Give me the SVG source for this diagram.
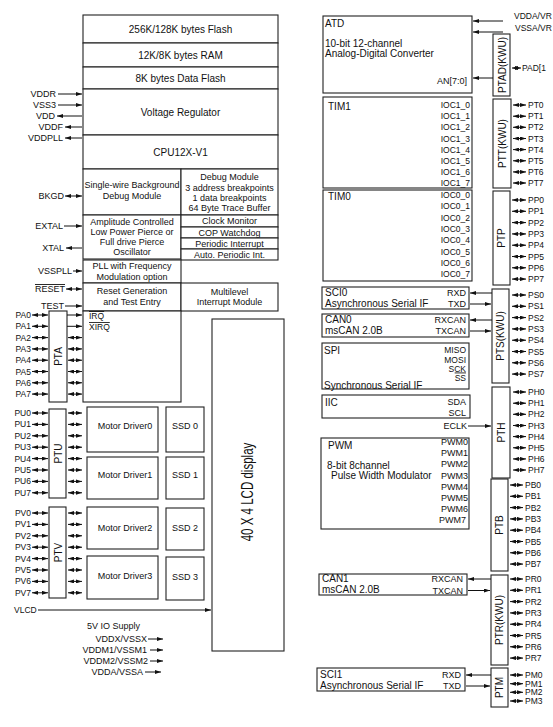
<svg xmlns="http://www.w3.org/2000/svg" width="553" height="727" viewBox="0 0 553 727">
<style>
text{font-family:"Liberation Sans",Arial,Helvetica,sans-serif;fill:#111;dominant-baseline:central}
.b{fill:#fff;stroke:#222;stroke-width:1.1}
.t10{font-size:10px}
.t9{font-size:9px}
.t85{font-size:8.5px}
.c{text-anchor:middle}
.e{text-anchor:end}
.ov{text-decoration:overline}
#connectors path{fill:none;stroke:#111;stroke-width:1}
#connectors path.s{marker-end:url(#a)}
#connectors path.d{marker-start:url(#a);marker-end:url(#a)}
</style>
<defs>
<marker id="a" viewBox="0 0 6 4" refX="6" refY="2" markerWidth="6" markerHeight="4" markerUnits="userSpaceOnUse" orient="auto-start-reverse"><path d="M0,0L6,2L0,4z" style="fill:#111;stroke:none"/></marker>
</defs>
<rect width="553" height="727" fill="#fff"/>

<!-- left core -->
<g id="flash"><rect class="b" x="83" y="15" width="195" height="28"/><text class="t10 c" x="180.5" y="29">256K/128K bytes Flash</text></g>
<g id="ram"><rect class="b" x="83" y="43" width="195" height="24"/><text class="t10 c" x="180.5" y="55">12K/8K bytes RAM</text></g>
<g id="dflash"><rect class="b" x="83" y="67" width="195" height="22"/><text class="t10 c" x="180.5" y="78">8K bytes Data Flash</text></g>
<g id="vreg"><rect class="b" x="83" y="89" width="195" height="46"/><text class="t10 c" x="180.5" y="112">Voltage Regulator</text></g>
<g id="cpu"><rect class="b" x="83" y="135" width="195" height="34"/><text class="t10 c" x="180.5" y="152">CPU12X-V1</text></g>
<g id="bdm"><rect class="b" x="83" y="169" width="98" height="46"/><text class="t9 c" x="132" y="185">Single-wire Background</text><text class="t9 c" x="132" y="196">Debug Module</text></g>
<g id="dbg"><rect class="b" x="181" y="169" width="97" height="46"/><text class="t9 c" x="229.5" y="177">Debug Module</text><text class="t9 c" x="229.5" y="187.5">3 address breakpoints</text><text class="t9 c" x="229.5" y="198">1 data breakpoints</text><text class="t9 c" x="229.5" y="207.5">64 Byte Trace Buffer</text></g>
<g id="osc"><rect class="b" x="83" y="215" width="98" height="44"/><text class="t9 c" x="132" y="222">Amplitude Controlled</text><text class="t9 c" x="132" y="232">Low Power Pierce or</text><text class="t9 c" x="132" y="242">Full drive Pierce</text><text class="t9 c" x="132" y="252">Oscillator</text></g>
<g id="clkmon"><rect class="b" x="181" y="215" width="97" height="12"/><text class="t9 c" x="229.5" y="221">Clock Monitor</text></g>
<g id="cop"><rect class="b" x="181" y="227" width="97" height="11"/><text class="t9 c" x="229.5" y="232.5">COP Watchdog</text></g>
<g id="pit"><rect class="b" x="181" y="238" width="97" height="11"/><text class="t9 c" x="229.5" y="243.5">Periodic Interrupt</text></g>
<g id="api"><rect class="b" x="181" y="249" width="97" height="11"/><text class="t9 c" x="229.5" y="254.5">Auto. Periodic Int.</text></g>
<g id="pll"><rect class="b" x="83" y="260" width="98" height="23"/><text class="t9 c" x="132" y="266">PLL with Frequency</text><text class="t9 c" x="132" y="277">Modulation option</text></g>
<g id="reset"><rect class="b" x="83" y="283" width="98" height="28"/><text class="t9 c" x="132" y="291">Reset Generation</text><text class="t9 c" x="132" y="301.5">and Test Entry</text></g>
<g id="int"><rect class="b" x="181" y="283" width="97" height="28"/><text class="t9 c" x="229.5" y="292">Multilevel</text><text class="t9 c" x="229.5" y="302">Interrupt Module</text></g>
<g id="irq"><rect class="b" x="83" y="311" width="98" height="91"/><text class="t85 ov" x="89" y="316">IRQ</text><text class="t85 ov" x="89" y="327">XIRQ</text></g>

<!-- left labels -->
<g id="pwr-labels" class="t9">
<text class="e" x="56" y="94">VDDR</text>
<text class="e" x="56" y="105">VSS3</text>
<text class="e" x="55" y="116">VDD</text>
<text class="e" x="63" y="127">VDDF</text>
<text class="e" x="63" y="138">VDDPLL</text>
<text class="e" x="64" y="196">BKGD</text>
<text class="e" x="63" y="226">EXTAL</text>
<text class="e" x="64" y="248">XTAL</text>
<text class="e" x="72" y="271">VSSPLL</text>
<text class="e ov" x="65" y="289">RESET</text>
<text class="e" x="64" y="306">TEST</text>
</g>

<!-- PTA -->
<g id="pta"><rect class="b" x="49" y="311" width="18" height="91"/><text class="t10 c" transform="translate(58.5,356.5) rotate(-90)">PTA</text>
<g class="t85 e"><text x="31" y="315">PA0</text><text x="31" y="326.3">PA1</text><text x="31" y="337.6">PA2</text><text x="31" y="348.9">PA3</text><text x="31" y="360.2">PA4</text><text x="31" y="371.5">PA5</text><text x="31" y="382.8">PA6</text><text x="31" y="394.1">PA7</text></g></g>
<!-- PTU -->
<g id="ptu"><rect class="b" x="49" y="409" width="17" height="89"/><text class="t10 c" transform="translate(58,453.5) rotate(-90)">PTU</text>
<g class="t85 e"><text x="31" y="413">PU0</text><text x="31" y="424.4">PU1</text><text x="31" y="435.8">PU2</text><text x="31" y="447.2">PU3</text><text x="31" y="458.6">PU4</text><text x="31" y="470">PU5</text><text x="31" y="481.4">PU6</text><text x="31" y="492.8">PU7</text></g></g>
<!-- PTV -->
<g id="ptv"><rect class="b" x="49" y="507" width="17" height="91"/><text class="t10 c" transform="translate(58,552.5) rotate(-90)">PTV</text>
<g class="t85 e"><text x="31" y="513">PV0</text><text x="31" y="524.4">PV1</text><text x="31" y="535.8">PV2</text><text x="31" y="547.2">PV3</text><text x="31" y="558.6">PV4</text><text x="31" y="570">PV5</text><text x="31" y="581.4">PV6</text><text x="31" y="592.8">PV7</text></g></g>

<g id="md0"><rect class="b" x="87" y="407" width="71" height="45"/><text class="t9 c" x="125" y="426">Motor Driver0</text></g>
<g id="ssd0"><rect class="b" x="166" y="407" width="38" height="45"/><text class="t9 c" x="185" y="426">SSD 0</text></g>
<g id="md1"><rect class="b" x="87" y="457" width="71" height="42"/><text class="t9 c" x="125" y="475">Motor Driver1</text></g>
<g id="ssd1"><rect class="b" x="166" y="457" width="38" height="42"/><text class="t9 c" x="185" y="475">SSD 1</text></g>
<g id="md2"><rect class="b" x="87" y="507" width="71" height="42"/><text class="t9 c" x="125" y="528">Motor Driver2</text></g>
<g id="ssd2"><rect class="b" x="166" y="508" width="38" height="42"/><text class="t9 c" x="185" y="528">SSD 2</text></g>
<g id="md3"><rect class="b" x="87" y="556" width="71" height="43"/><text class="t9 c" x="125" y="576">Motor Driver3</text></g>
<g id="ssd3"><rect class="b" x="166" y="557" width="38" height="43"/><text class="t9 c" x="185" y="577">SSD 3</text></g>

<g id="lcd"><rect class="b" x="212" y="319" width="72" height="332"/><text class="c" style="font-size:16px" transform="translate(247,492) rotate(-90) scale(0.72,1)">40 X 4 LCD display</text></g>
<g id="vlcd"><text class="t85" x="14" y="610">VLCD</text></g>

<g id="supply" class="t9">
<text x="87" y="626">5V IO Supply</text>
<text class="e" x="147" y="639">VDDX/VSSX</text>
<text class="e" x="147" y="650">VDDM1/VSSM1</text>
<text class="e" x="148" y="661">VDDM2/VSSM2</text>
<text class="e" x="143" y="672">VDDA/VSSA</text>
</g>

<!-- right side modules -->
<g id="atd"><rect class="b" x="323" y="16" width="149" height="77"/><text class="t10" x="325" y="23">ATD</text><text class="t10" x="325" y="43">10-bit 12-channel</text><text class="t10" x="325" y="53.5">Analog-Digital Converter</text><text class="t9 e" x="467" y="81">AN[7:0]</text></g>
<g id="vref" style="font-size:8.5px"><text x="514" y="16">VDDA/VR</text><text x="515" y="27.5">VSSA/VR</text></g>
<g id="ptad"><rect class="b" x="493" y="34" width="17" height="62"/><text class="t10 c" transform="translate(502,65) rotate(-90)">PTAD(KWU)</text><text class="t85" x="522" y="68">PAD[1</text></g>

<g id="tim1"><rect class="b" x="323" y="97" width="149" height="91"/><text class="t10" x="328" y="106">TIM1</text>
<g class="t85 e"><text x="470" y="105">IOC1_0</text><text x="470" y="116.2">IOC1_1</text><text x="470" y="127.3">IOC1_2</text><text x="470" y="138.5">IOC1_3</text><text x="470" y="149.6">IOC1_4</text><text x="470" y="160.8">IOC1_5</text><text x="470" y="171.9">IOC1_6</text><text x="470" y="183">IOC1_7</text></g></g>
<g id="tim0"><rect class="b" x="323" y="190" width="149" height="91"/><text class="t10" x="328" y="196">TIM0</text>
<g class="t85 e"><text x="470" y="195">IOC0_0</text><text x="470" y="206.3">IOC0_1</text><text x="470" y="217.6">IOC0_2</text><text x="470" y="228.9">IOC0_3</text><text x="470" y="240.2">IOC0_4</text><text x="470" y="251.5">IOC0_5</text><text x="470" y="262.8">IOC0_6</text><text x="470" y="274.1">IOC0_7</text></g></g>

<g id="sci0"><rect class="b" x="322" y="287" width="147" height="22"/><text class="t10" x="325" y="292">SCI0</text><text class="t10" x="325" y="303.5">Asynchronous Serial IF</text><text class="t9 e" x="466" y="293">RXD</text><text class="t9 e" x="466" y="304">TXD</text></g>
<g id="can0"><rect class="b" x="322" y="314" width="147" height="23"/><text class="t10" x="325" y="319">CAN0</text><text class="t10" x="325" y="330">msCAN 2.0B</text><text class="t9 e" x="466" y="320">RXCAN</text><text class="t9 e" x="466" y="331">TXCAN</text></g>
<g id="spi"><rect class="b" x="322" y="343" width="147" height="46"/><text class="t10" x="324" y="350">SPI</text><text class="t10" x="324" y="385">Synchronous Serial IF</text><text class="t85 e" x="466" y="350">MISO</text><text class="t85 e" x="466" y="360">MOSI</text><text class="t85 e" x="466" y="369">SCK</text><text class="t85 e ov" x="466" y="377.5">SS</text></g>
<g id="iic"><rect class="b" x="322" y="395" width="148" height="23"/><text class="t10" x="325" y="402">IIC</text><text class="t9 e" x="466" y="402">SDA</text><text class="t9 e" x="466" y="413">SCL</text></g>
<g id="eclk"><text class="t9 e" x="467" y="426">ECLK</text></g>
<g id="pwm"><rect class="b" x="321" y="438" width="148" height="91"/><text class="t10" x="328" y="445">PWM</text><text class="t10" x="327" y="465">8-bit 8channel</text><text class="t10" x="331" y="475">Pulse Width Modulator</text>
<g class="t9 e"><text x="468" y="442">PWM0</text><text x="468" y="453.2">PWM1</text><text x="468" y="464.3">PWM2</text><text x="468" y="475.5">PWM3</text><text x="468" y="486.6">PWM4</text><text x="468" y="497.8">PWM5</text><text x="468" y="508.9">PWM6</text><text x="466" y="520">PWM7</text></g></g>
<g id="can1"><rect class="b" x="319" y="574" width="148" height="21"/><text class="t10" x="322" y="578">CAN1</text><text class="t10" x="322" y="589">msCAN 2.0B</text><text class="t9 e" x="463" y="579">RXCAN</text><text class="t9 e" x="463" y="590.5">TXCAN</text></g>
<g id="sci1"><rect class="b" x="317" y="668" width="148" height="23"/><text class="t10" x="320" y="674">SCI1</text><text class="t10" x="320" y="685.5">Asynchronous Serial IF</text><text class="t9 e" x="461" y="675">RXD</text><text class="t9 e" x="461" y="686">TXD</text></g>

<!-- right ports -->
<g id="ptt"><rect class="b" x="493" y="99" width="18" height="89"/><text class="t10 c" transform="translate(502,143.5) rotate(-90)">PTT(KWU)</text>
<g class="t85"><text x="528" y="105">PT0</text><text x="528" y="116.2">PT1</text><text x="528" y="127.3">PT2</text><text x="528" y="138.5">PT3</text><text x="528" y="149.6">PT4</text><text x="528" y="160.8">PT5</text><text x="528" y="171.9">PT6</text><text x="528" y="183">PT7</text></g></g>
<g id="ptp"><rect class="b" x="493" y="191" width="17" height="94"/><text class="t10 c" transform="translate(501.5,238) rotate(-90)">PTP</text>
<g class="t85"><text x="528" y="200">PP0</text><text x="528" y="211.3">PP1</text><text x="528" y="222.6">PP2</text><text x="528" y="233.9">PP3</text><text x="528" y="245.2">PP4</text><text x="528" y="256.5">PP5</text><text x="528" y="267.8">PP6</text><text x="528" y="279.1">PP7</text></g></g>
<g id="pts"><rect class="b" x="492" y="289" width="17" height="94"/><text class="t10 c" transform="translate(500.5,336) rotate(-90)">PTS(KWU)</text>
<g class="t85"><text x="528" y="295">PS0</text><text x="528" y="306.3">PS1</text><text x="528" y="317.6">PS2</text><text x="528" y="328.9">PS3</text><text x="528" y="340.2">PS4</text><text x="528" y="351.5">PS5</text><text x="528" y="362.8">PS6</text><text x="528" y="374.1">PS7</text></g></g>
<g id="pth"><rect class="b" x="492" y="387" width="18" height="91"/><text class="t10 c" transform="translate(501,432.5) rotate(-90)">PTH</text>
<g class="t85"><text x="528" y="392">PH0</text><text x="528" y="403.2">PH1</text><text x="528" y="414.3">PH2</text><text x="528" y="425.5">PH3</text><text x="528" y="436.6">PH4</text><text x="528" y="447.8">PH5</text><text x="528" y="458.9">PH6</text><text x="528" y="470">PH7</text></g></g>
<g id="ptb"><rect class="b" x="491" y="479" width="17" height="92"/><text class="t10 c" transform="translate(499.5,525) rotate(-90)">PTB</text>
<g class="t85"><text x="525" y="485">PB0</text><text x="525" y="496.3">PB1</text><text x="525" y="507.6">PB2</text><text x="525" y="518.9">PB3</text><text x="525" y="530.2">PB4</text><text x="525" y="541.5">PB5</text><text x="525" y="552.8">PB6</text><text x="525" y="564.1">PB7</text></g></g>
<g id="ptr"><rect class="b" x="491" y="575" width="17" height="90"/><text class="t10 c" transform="translate(499.5,620) rotate(-90)">PTR(KWU)</text>
<g class="t85"><text x="525" y="579">PR0</text><text x="525" y="590.3">PR1</text><text x="525" y="601.6">PR2</text><text x="525" y="612.9">PR3</text><text x="525" y="624.2">PR4</text><text x="525" y="635.5">PR5</text><text x="525" y="646.8">PR6</text><text x="525" y="658.1">PR7</text></g></g>
<g id="ptm"><rect class="b" x="491" y="668" width="17" height="39"/><text class="t10 c" transform="translate(499.5,687.5) rotate(-90)">PTM</text>
<g class="t85"><text x="525" y="675">PM0</text><text x="525" y="683.7">PM1</text><text x="525" y="692.3">PM2</text><text x="525" y="701">PM3</text></g></g>

<!-- connectors -->
<g id="connectors">
<path class="s" d="M58,94H82"/><path class="s" d="M58,105H82"/><path class="s" d="M82,116H57"/><path class="s" d="M82,127H65"/><path class="s" d="M82,138H65"/>
<path class="d" d="M65,196H82"/>
<path class="s" d="M64,226H82"/><path class="s" d="M82,248H66"/><path class="s" d="M73,271H82"/><path class="s" d="M65,306H82"/>
<path class="d" d="M66,289H82"/>
<path class="d" d="M32,315H48"/><path class="d" d="M32,326.3H48"/><path class="d" d="M32,337.6H48"/><path class="d" d="M32,348.9H48"/><path class="d" d="M32,360.2H48"/><path class="d" d="M32,371.5H48"/><path class="d" d="M32,382.8H48"/><path class="d" d="M32,394.1H48"/>
<path class="s" d="M67,315H82"/><path class="s" d="M67,326.3H82"/>
<path class="d" d="M68,337.6H82"/><path class="d" d="M68,348.9H82"/><path class="d" d="M68,360.2H82"/><path class="d" d="M68,371.5H82"/><path class="d" d="M68,382.8H82"/><path class="d" d="M68,394.1H82"/>
<path class="d" d="M32,413H48"/><path class="d" d="M32,424.4H48"/><path class="d" d="M32,435.8H48"/><path class="d" d="M32,447.2H48"/><path class="d" d="M32,458.6H48"/><path class="d" d="M32,470H48"/><path class="d" d="M32,481.4H48"/><path class="d" d="M32,492.8H48"/>
<path class="d" d="M68,413H82"/><path class="d" d="M68,424.4H82"/><path class="d" d="M68,435.8H82"/><path class="d" d="M68,447.2H82"/><path class="d" d="M68,458.6H82"/><path class="d" d="M68,470H82"/><path class="d" d="M68,481.4H82"/><path class="d" d="M68,492.8H82"/>
<path class="d" d="M32,513H48"/><path class="d" d="M32,524.4H48"/><path class="d" d="M32,535.8H48"/><path class="d" d="M32,547.2H48"/><path class="d" d="M32,558.6H48"/><path class="d" d="M32,570H48"/><path class="d" d="M32,581.4H48"/><path class="d" d="M32,592.8H48"/>
<path class="d" d="M68,513H82"/><path class="d" d="M68,524.4H82"/><path class="d" d="M68,535.8H82"/><path class="d" d="M68,547.2H82"/><path class="d" d="M68,558.6H82"/><path class="d" d="M68,570H82"/><path class="d" d="M68,581.4H82"/><path class="d" d="M68,592.8H82"/>
<path class="s" d="M38,610H211"/>
<path class="s" d="M148,639H163"/><path class="s" d="M150,650H163"/><path class="s" d="M150,661H163"/><path class="s" d="M145,672H161"/>
<path class="s" d="M503,21H473"/><path class="s" d="M503,32H473"/><path class="s" d="M493,78H473"/>
<path class="d" d="M512,68H521"/>
<path class="d" d="M513,105H526"/><path class="d" d="M513,116.2H526"/><path class="d" d="M513,127.3H526"/><path class="d" d="M513,138.5H526"/><path class="d" d="M513,149.6H526"/><path class="d" d="M513,160.8H526"/><path class="d" d="M513,171.9H526"/><path class="d" d="M513,183H526"/>
<path class="d" d="M512,200H526"/><path class="d" d="M512,211.3H526"/><path class="d" d="M512,222.6H526"/><path class="d" d="M512,233.9H526"/><path class="d" d="M512,245.2H526"/><path class="d" d="M512,256.5H526"/><path class="d" d="M512,267.8H526"/><path class="d" d="M512,279.1H526"/>
<path class="d" d="M512,295H526"/><path class="d" d="M512,306.3H526"/><path class="d" d="M512,317.6H526"/><path class="d" d="M512,328.9H526"/><path class="d" d="M512,340.2H526"/><path class="d" d="M512,351.5H526"/><path class="d" d="M512,362.8H526"/><path class="d" d="M512,374.1H526"/>
<path class="d" d="M513,392H526"/><path class="d" d="M513,403.2H526"/><path class="d" d="M513,414.3H526"/><path class="d" d="M513,425.5H526"/><path class="d" d="M513,436.6H526"/><path class="d" d="M513,447.8H526"/><path class="d" d="M513,458.9H526"/><path class="d" d="M513,470H526"/>
<path class="d" d="M510,485H523"/><path class="d" d="M510,496.3H523"/><path class="d" d="M510,507.6H523"/><path class="d" d="M510,518.9H523"/><path class="d" d="M510,530.2H523"/><path class="d" d="M510,541.5H523"/><path class="d" d="M510,552.8H523"/><path class="d" d="M510,564.1H523"/>
<path class="d" d="M510,579H523"/><path class="d" d="M510,590.3H523"/><path class="d" d="M510,601.6H523"/><path class="d" d="M510,612.9H523"/><path class="d" d="M510,624.2H523"/><path class="d" d="M510,635.5H523"/><path class="d" d="M510,646.8H523"/><path class="d" d="M510,658.1H523"/>
<path class="d" d="M510,675H523"/><path class="d" d="M510,683.7H523"/><path class="d" d="M510,692.3H523"/><path class="d" d="M510,701H523"/>
<path class="s" d="M492,293H470"/><path class="s" d="M470,304H491"/><path class="s" d="M492,320H470"/><path class="s" d="M470,331H491"/>
<path class="s" d="M468,426H491"/>
<path class="s" d="M491,579H468"/><path class="s" d="M468,590.5H490"/><path class="s" d="M491,675H466"/><path class="s" d="M466,686H490"/>
</g>
</svg>
